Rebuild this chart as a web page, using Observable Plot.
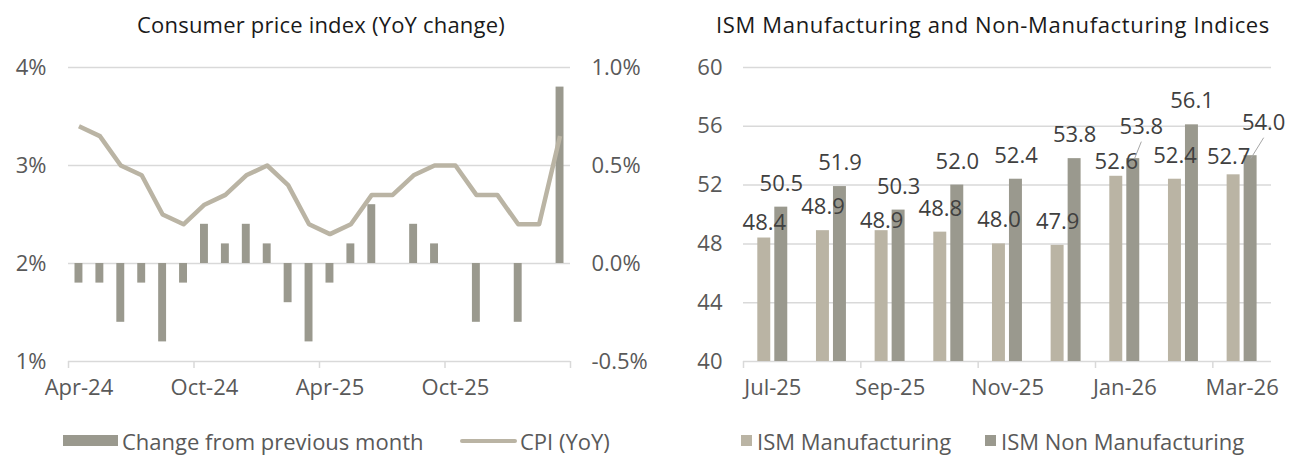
<!DOCTYPE html>
<html>
<head>
<meta charset="utf-8">
<script src="https://cdn.jsdelivr.net/npm/d3@7"></script>
<script src="https://cdn.jsdelivr.net/npm/@observablehq/plot@0.6"></script>
<style>
  html, body { margin: 0; padding: 0; background: #fff; }
  body { width: 1303px; height: 456px; position: relative; overflow: hidden; font-family: "Open Sans", "Noto Sans", sans-serif; }
  .title { position: absolute; top: 8px; font-size: 22px; line-height: 32px; color: #1a1a1a; white-space: nowrap; transform: translateX(-50%); }
  .chart { position: absolute; top: 40px; }
  .leg { position: absolute; font-size: 22px; color: #595959; white-space: nowrap; top: 425px; line-height: 32px; }
  .sw { position: absolute; }
</style>
</head>
<body>
<div class="title" style="left:321px;letter-spacing:0.2px">Consumer price index (YoY change)</div>
<div class="title" style="left:993px;letter-spacing:0.65px">ISM Manufacturing and Non-Manufacturing Indices</div>
<div id="left" class="chart" style="left:0px"></div>
<div id="right" class="chart" style="left:650px"></div>

<div class="sw" style="left:63px;top:435px;width:55px;height:11px;background:#9a998e"></div>
<div class="leg" style="left:122px">Change from previous month</div>
<div class="sw" style="left:460px;top:439px;width:57px;height:4px;border-radius:2px;background:#bab4a4"></div>
<div class="leg" style="left:520px">CPI (YoY)</div>

<div class="sw" style="left:741px;top:435px;width:11px;height:11px;background:#bab4a4"></div>
<div class="leg" style="left:757px">ISM Manufacturing</div>
<div class="sw" style="left:985px;top:435px;width:11px;height:11px;background:#9a998e"></div>
<div class="leg" style="left:1001px">ISM Non Manufacturing</div>

<script>
// ---------- Data: CPI chart ----------
const cpiMonths = ["Apr-24","May-24","Jun-24","Jul-24","Aug-24","Sep-24","Oct-24","Nov-24","Dec-24","Jan-25","Feb-25","Mar-25",
                   "Apr-25","May-25","Jun-25","Jul-25","Aug-25","Sep-25","Oct-25","Nov-25","Dec-25","Jan-26","Feb-26","Mar-26"];
const cpiYoY = [3.4, 3.3, 3.0, 2.9, 2.5, 2.4, 2.6, 2.7, 2.9, 3.0, 2.8, 2.4,
                2.3, 2.4, 2.7, 2.7, 2.9, 3.0, 3.0, 2.7, 2.7, 2.4, 2.4, 3.3];
const cpiMoM = [-0.1, -0.1, -0.3, -0.1, -0.4, -0.1, 0.2, 0.1, 0.2, 0.1, -0.2, -0.4,
                -0.1, 0.1, 0.3, 0.0, 0.2, 0.1, 0.0, -0.3, 0.0, -0.3, 0.0, 0.9];
const cpiLeftTicks = [1, 2, 3, 4];
const cpiLabelMonths = ["Apr-24", "Oct-24", "Apr-25", "Oct-25"];

// ---------- Data: ISM chart ----------
const ismMonths = ["Jul-25","Aug-25","Sep-25","Oct-25","Nov-25","Dec-25","Jan-26","Feb-26","Mar-26"];
const ismManufacturing = [48.4, 48.9, 48.9, 48.8, 48.0, 47.9, 52.6, 52.4, 52.7];
const ismNonManufacturing = [50.5, 51.9, 50.3, 52.0, 52.4, 53.8, 53.8, 56.1, 54.0];
const ismTicks = [40, 44, 48, 52, 56, 60];
const ismLabelMonths = ["Jul-25", "Sep-25", "Nov-25", "Jan-26", "Mar-26"];

// ---------- Styles / layout ----------
const DARK = "#9a998e", LIGHT = "#bab4a4", GRID = "#d9d9d9", TICKTXT = "#595959", LBLTXT = "#404040", LEADER = "#a6a6a6";
const FONT = "Open Sans, Noto Sans, sans-serif";
const FS = 22;
// manual data-label nudges (pixels: [dx from bar centre, dy from bar top]) as in the original
const DEFAULT_NUDGE = [0, -23.5];
const mfgNudge = {"Jul-25": [0, -15.5], "Sep-25": [0, -9.5], "Jan-26": [0, -14], "Mar-26": [-5, -18]};
const nonNudge = {"Jan-26": [8, -32], "Mar-26": [13, -33]};
const nonLeaders = ["Jan-26", "Mar-26"];

// ---------- CPI chart ----------
const cpi = cpiMonths.map((m, i) => ({i, month: m, yoy: cpiYoY[i], mom: cpiMoM[i]}));
const momToLeft = v => 2 + 2 * v;           // right axis (MoM) -> left axis (YoY) units
const leftToMom = v => (v - 2) / 2;
const nC = cpiMonths.length;
const cpiLabelIdx = cpiLabelMonths.map(m => cpiMonths.indexOf(m) + 0.5);
const cpiBoundaryIdx = d3.range(0, nC + 1, 6);

const leftW = 650, H = 372;
const leftPlot = Plot.plot({
  width: leftW, height: H,
  marginLeft: 68, marginRight: 80, marginTop: 27, marginBottom: 51,
  style: {fontFamily: FONT, fontSize: FS + "px", color: TICKTXT, background: "transparent", overflow: "visible"},
  x: {type: "linear", domain: [0, nC], label: null},
  y: {domain: [1, 4], label: null},
  marks: [
    Plot.ruleY(cpiLeftTicks, {stroke: GRID, strokeWidth: 1.5}),
    Plot.axisX({ticks: cpiBoundaryIdx, tickSize: 7, tickFormat: () => "", stroke: GRID, strokeWidth: 1.5, label: null}),
    Plot.axisX({ticks: cpiLabelIdx, tickSize: 0, tickPadding: 18, tickFormat: d => cpiMonths[d - 0.5], fill: TICKTXT, fontSize: FS, label: null}),
    Plot.axisY({anchor: "left", ticks: cpiLeftTicks, tickSize: 0, tickPadding: 22, tickFormat: d => d + "%", fill: TICKTXT, fontSize: FS, label: null}),
    Plot.axisY({anchor: "right", ticks: cpiLeftTicks, tickSize: 0, tickPadding: 21, tickFormat: d => leftToMom(d).toFixed(1) + "%", fill: TICKTXT, fontSize: FS, label: null}),
    Plot.rectY(cpi.filter(d => d.mom !== 0), {
      x1: d => d.i, x2: d => d.i + 1,
      y1: () => 2, y2: d => momToLeft(d.mom),
      insetLeft: 6.5, insetRight: 6.5, fill: DARK
    }),
    Plot.line(cpi, {x: d => d.i + 0.5, y: "yoy", stroke: LIGHT, strokeWidth: 4.5, strokeLinejoin: "round", strokeLinecap: "butt"})
  ]
});
document.getElementById("left").appendChild(leftPlot);

// ---------- ISM chart ----------
const nI = ismMonths.length;
const ism = ismMonths.map((m, i) => ({
  i, month: m, mfg: ismManufacturing[i], non: ismNonManufacturing[i],
  mn: mfgNudge[m] || DEFAULT_NUDGE, nn: nonNudge[m] || DEFAULT_NUDGE
}));
const ismLabelIdx = ismLabelMonths.map(m => ismMonths.indexOf(m) + 0.5);
const ismBoundaryIdx = ismLabelMonths.map(m => ismMonths.indexOf(m));

const rightW = 653, rML = 93, rMR = 32, rMT = 27, rMB = 51;
const stepPx = (rightW - rML - rMR) / nI;          // px per category
const unitPx = (H - rMT - rMB) / (60 - 40);        // px per index point
const BAR_OFF = 8.5;                               // half of bar pair offset from category centre
const leaders = ism.filter(d => nonLeaders.includes(d.month)).map(d => ({
  x1: d.i + 0.5 + (BAR_OFF) / stepPx,
  y1: d.non - 3 / unitPx,
  x2: d.i + 0.5 + (BAR_OFF + d.nn[0]) / stepPx,
  y2: d.non - (d.nn[1] + 15) / unitPx
}));

const rightPlot = Plot.plot({
  width: rightW, height: H,
  marginLeft: rML, marginRight: rMR, marginTop: rMT, marginBottom: rMB,
  style: {fontFamily: FONT, fontSize: FS + "px", color: TICKTXT, background: "transparent", overflow: "visible"},
  x: {type: "linear", domain: [0, nI], label: null},
  y: {domain: [40, 60], label: null},
  marks: [
    Plot.ruleY(ismTicks, {stroke: GRID, strokeWidth: 1.5}),
    Plot.axisX({ticks: ismBoundaryIdx, tickSize: 7, tickFormat: () => "", stroke: GRID, strokeWidth: 1.5, label: null}),
    Plot.axisX({ticks: ismLabelIdx, tickSize: 0, tickPadding: 18, tickFormat: d => ismMonths[d - 0.5], fill: TICKTXT, fontSize: FS, label: null}),
    Plot.axisY({anchor: "left", ticks: ismTicks, tickSize: 0, tickPadding: 21, tickFormat: d => String(d), fill: TICKTXT, fontSize: FS, label: null}),
    Plot.rectY(ism, {x1: d => d.i, x2: d => d.i + 1, y1: () => 40, y2: "mfg", insetLeft: 14.3, insetRight: 31.4, fill: LIGHT}),
    Plot.rectY(ism, {x1: d => d.i, x2: d => d.i + 1, y1: () => 40, y2: "non", insetLeft: 31.3, insetRight: 14.4, fill: DARK}),
    Plot.link(leaders, {x1: "x1", y1: "y1", x2: "x2", y2: "y2", stroke: LEADER, strokeWidth: 1}),
    Plot.text(ism, {x: d => d.i + 0.5 + (-BAR_OFF + d.mn[0]) / stepPx, y: d => d.mfg - d.mn[1] / unitPx, text: d => d.mfg.toFixed(1), fill: LBLTXT, fontSize: FS}),
    Plot.text(ism, {x: d => d.i + 0.5 + (BAR_OFF + d.nn[0]) / stepPx, y: d => d.non - d.nn[1] / unitPx, text: d => d.non.toFixed(1), fill: LBLTXT, fontSize: FS})
  ]
});
document.getElementById("right").appendChild(rightPlot);
</script>
</body>
</html>
